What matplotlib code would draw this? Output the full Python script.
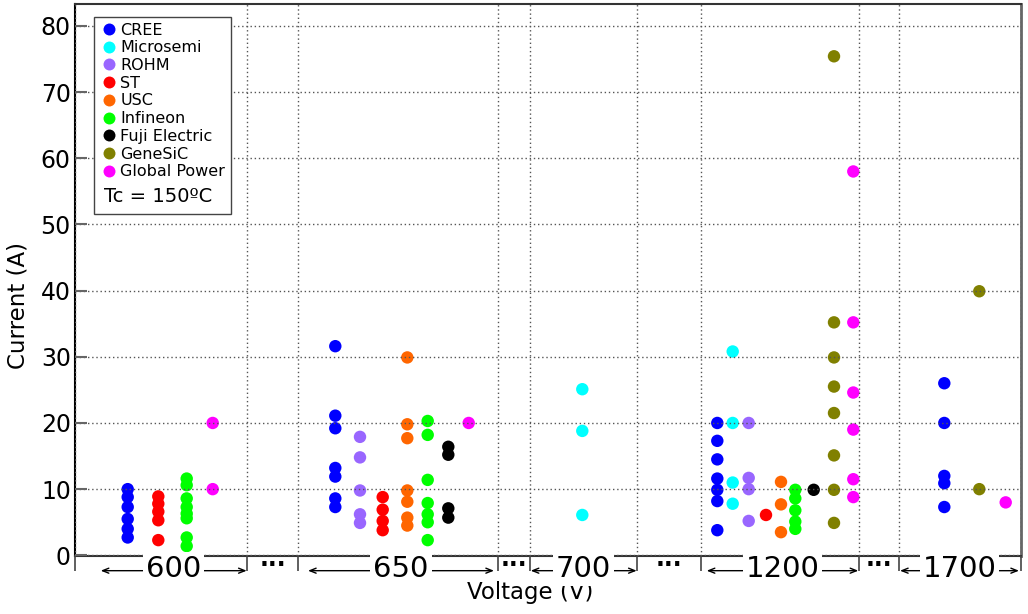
import matplotlib
matplotlib.use('Agg')
import matplotlib.pyplot as plt
from matplotlib.lines import Line2D

# current ratings (A) per manufacturer, keyed by blocking voltage (V)
names = ['CREE', 'Microsemi', 'ROHM', 'ST', 'USC', 'Infineon', 'Fuji Electric', 'GeneSiC', 'Global Power']
colors = ['#0000ff', '#00ffff', '#9966ff', '#ff0000', '#ff6600', '#00ff00', '#000000', '#808000', '#ff00ff']

cree = {600: [10.0, 8.8, 7.3, 5.5, 4.0, 2.7],
        650: [31.6, 21.1, 19.2, 13.2, 11.9, 8.6, 7.3],
        1200: [20.0, 17.3, 14.5, 11.6, 9.9, 8.2, 3.8],
        1700: [26.0, 20.0, 12.0, 10.9, 7.3]}
microsemi = {700: [25.1, 18.8, 6.1],
             1200: [30.8, 20.0, 11.0, 7.8]}
rohm = {650: [17.9, 14.8, 9.8, 6.2, 4.9],
        1200: [20.0, 11.7, 10.0, 5.2]}
st = {600: [8.9, 7.8, 6.6, 5.3, 2.3],
      650: [8.8, 6.9, 5.2, 3.8],
      1200: [6.1]}
usc = {650: [29.9, 19.8, 17.7, 9.8, 8.1, 5.7, 4.5],
       1200: [11.1, 7.7, 3.5]}
infineon = {600: [11.6, 10.6, 8.6, 7.3, 6.3, 5.6, 2.7, 1.4],
            650: [20.3, 18.2, 11.4, 7.9, 6.2, 5.0, 2.3],
            1200: [9.9, 8.6, 6.8, 5.1, 4.0]}
fuji = {650: [16.4, 15.2, 7.1, 5.7],
        1200: [9.9]}
genesic = {1200: [75.4, 35.2, 29.9, 25.5, 21.5, 15.1, 9.9, 4.9],
           1700: [39.9, 10.0]}
globalpower = {600: [20.0, 10.0],
               650: [20.0],
               1200: [58.0, 35.2, 24.6, 19.0, 11.5, 8.8],
               1700: [8.0]}
series = [cree, microsemi, rohm, st, usc, infineon, fuji, genesic, globalpower]

voltages = [600, 650, 700, 1200, 1700]

# layout: horizontal column of each manufacturer inside each voltage block
col_x = {600: {'CREE': 52.7, 'ST': 83.3, 'Infineon': 111.7, 'Global Power': 137.7},
         650: {'CREE': 260.3, 'ROHM': 285, 'ST': 307.7, 'USC': 332.3, 'Infineon': 352.7,
               'Fuji Electric': 373.3, 'Global Power': 393.7},
         700: {'Microsemi': 507.3},
         1200: {'CREE': 642.3, 'Microsemi': 657.7, 'ROHM': 673.7, 'ST': 691, 'USC': 706,
                'Infineon': 720.3, 'Fuji Electric': 738.7, 'GeneSiC': 759, 'Global Power': 778.3},
         1700: {'CREE': 869.3, 'GeneSiC': 904.3, 'Global Power': 930.7}}
blocks = [(0, 172), (223, 423), (455, 562), (626, 784), (824, 946)]
arrows = [(25.7, 171.7), (233, 419), (455.7, 561.7), (631.7, 783.3), (825, 944)]

fig = plt.figure(figsize=(10.28, 6.14), dpi=100)
ax = fig.add_axes([75/1028, 1-556/614, 946/1028, 552/614])

for name, col, data in zip(names, colors, series):
    xs, ys = [], []
    for v, currents in data.items():
        xs += [col_x[v][name]] * len(currents)
        ys += currents
    ax.scatter(xs, ys, s=80, color=col, edgecolors='none', zorder=1)

ax.set_xlim(0, 946)
ax.set_ylim(-0.1, 83.3)

edges = sorted(set([b for blk in blocks for b in blk]))
ax.set_xticks(edges)
ax.set_yticks(range(0, 81, 10))
ax.tick_params(axis='x', direction='out', length=11, width=1.2, color='#444', labelbottom=False)
ax.tick_params(axis='y', direction='in', length=8.5, width=1.5, color='#666', labelsize=17, pad=3)
ax.set_axisbelow(False)
ax.grid(True, color='#555', linewidth=1, linestyle=(0, (1, 2)))

for side in ['left', 'bottom', 'top', 'right']:
    ax.spines[side].set_color('#333')
    ax.spines[side].set_linewidth(1.5)
ax.spines['left'].set_color('black')
ax.spines['right'].set_color('#666')
ax.spines['right'].set_linewidth(2)

trans = ax.get_xaxis_transform()
for v, (a, b) in zip(voltages, arrows):
    ax.annotate('', xy=(b, -0.0266), xytext=(a, -0.0266), xycoords=trans, textcoords=trans,
                arrowprops=dict(arrowstyle='<->,head_length=0.45,head_width=0.18',
                                lw=1, color='black', shrinkA=0, shrinkB=0),
                annotation_clip=False)
    ax.text((a + b) / 2, -0.0236, str(v), transform=trans, ha='center', va='center',
            fontsize=21, zorder=5, clip_on=False,
            bbox=dict(facecolor='white', edgecolor='none', pad=2))

for (l0, r0), (l1, r1) in zip(blocks[:-1], blocks[1:]):
    ax.text((r0 + l1) / 2, -0.019, '...', transform=trans, ha='center', va='baseline',
            fontsize=17, fontweight='bold', clip_on=False)

ax.set_xlabel('Voltage (V)', fontsize=16.5)
ax.xaxis.set_label_coords(0.481, -0.045)
ax.set_ylabel('Current (A)', fontsize=16.5)
ax.yaxis.set_label_coords(-0.048, 0.454)

handles = [Line2D([], [], marker='o', linestyle='none', markersize=8.6,
                  markerfacecolor=c, markeredgecolor='none') for c in colors]
handles.append(Line2D([], [], linestyle='none'))
leg = ax.legend(handles, names + ['Tc'], loc='upper left', bbox_to_anchor=(0.0201, 0.9764),
                borderaxespad=0, fontsize=11.5, labelspacing=0.17, handlelength=1.2,
                handletextpad=0.1, borderpad=0.35, fancybox=False, framealpha=1,
                edgecolor='#444')
leg.get_frame().set_linewidth(1)
leg.get_texts()[-1].set_fontsize(19)
leg.get_texts()[-1].set_alpha(0)
leg.set_zorder(10)
ax.text(0.0307, 0.652, 'Tc = 150ºC', transform=ax.transAxes, ha='left', va='center',
        fontsize=14, zorder=11)

fig.savefig('out.png', dpi=100)
